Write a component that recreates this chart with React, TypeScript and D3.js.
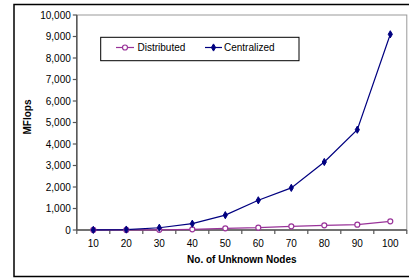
import React from "react";
import * as d3 from "d3";

const categories = [10, 20, 30, 40, 50, 60, 70, 80, 90, 100];
const distributed = [2, 5, 10, 30, 78, 107, 170, 217, 247, 404];
const centralized = [5, 20, 105, 293, 690, 1381, 1960, 3163, 4665, 9102];
const yTicks = [0, 1000, 2000, 3000, 4000, 5000, 6000, 7000, 8000, 9000, 10000];

const W = 409;
const H = 278;
const left = 76.8;
const right = 406.8;
const top = 15;
const bottom = 230;

const distColor = "#993399";
const centColor = "#000080";
const font = "'Liberation Sans', Arial, sans-serif";

export default function App() {
  const x = d3
    .scaleBand<number>()
    .domain(categories)
    .range([left, right])
    .paddingInner(0)
    .paddingOuter(0);
  const y = d3.scaleLinear().domain([0, 10000]).range([bottom, top]);
  const cx = (c: number) => (x(c) as number) + x.bandwidth() / 2;
  const line = d3
    .line<number>()
    .x((_, i) => cx(categories[i]))
    .y((v) => y(v));
  const fmt = d3.format(",");
  const diamond = d3.symbol().type(d3.symbolDiamond).size(15)() as string;
  const bounds = [...categories.map((c) => x(c) as number), right];

  return (
    <svg
      width={W}
      height={H}
      style={{ position: "absolute", left: 0, top: 0, background: "#fff" }}
      fontFamily={font}
    >
      <rect x={14} y={4.5} width={410} height={272} fill="#fff" stroke="#000" strokeWidth={1.5} />
      <rect x={left} y={top} width={right - left} height={bottom - top} fill="none" stroke="#999" strokeWidth={1} />
      <line x1={left} x2={left} y1={top} y2={bottom} stroke="#555" strokeWidth={1.5} />
      {yTicks.map((t) => (
        <g key={t}>
          <line x1={left - 4} x2={left} y1={y(t)} y2={y(t)} stroke="#555" strokeWidth={1.2} />
          <text x={left - 6} y={y(t) + 3.5} fontSize={10} textAnchor="end" fill="#000">
            {fmt(t)}
          </text>
        </g>
      ))}
      <line x1={left} x2={right} y1={bottom} y2={bottom} stroke="#555" strokeWidth={1.5} />
      {bounds.map((b, i) => (
        <line key={i} x1={b} x2={b} y1={bottom} y2={bottom + 4} stroke="#555" strokeWidth={1.2} />
      ))}
      {categories.map((c) => (
        <text key={c} x={cx(c)} y={bottom + 17} fontSize={10} textAnchor="middle" fill="#000">
          {c}
        </text>
      ))}
      <text x={(left + right) / 2} y={263} fontSize={10} fontWeight="bold" textAnchor="middle">
        No. of Unknown Nodes
      </text>
      <text
        transform={`translate(31, ${117}) rotate(-90)`}
        fontSize={10}
        fontWeight="bold"
        textAnchor="middle"
      >
        MFlops
      </text>
      <path d={line(distributed) as string} fill="none" stroke={distColor} strokeWidth={1.2} />
      <path d={line(centralized) as string} fill="none" stroke={centColor} strokeWidth={1.2} />
      {distributed.map((v, i) => (
        <circle key={i} cx={cx(categories[i])} cy={y(v)} r={2.5} fill="#fff" stroke={distColor} strokeWidth={1.2} />
      ))}
      {centralized.map((v, i) => (
        <path key={i} d={diamond} transform={`translate(${cx(categories[i])},${y(v)})`} fill={centColor} stroke={centColor} strokeWidth={1} />
      ))}
      <rect x={100.7} y={37.3} width={198.3} height={23.4} fill="#fff" stroke="#000" strokeWidth={1} />
      <line x1={116} x2={134} y1={47.5} y2={47.5} stroke={distColor} strokeWidth={1.2} />
      <circle cx={125} cy={47.5} r={2.5} fill="#fff" stroke={distColor} strokeWidth={1.2} />
      <text x={137.5} y={51} fontSize={10}>Distributed</text>
      <line x1={205} x2={222} y1={47.5} y2={47.5} stroke={centColor} strokeWidth={1.2} />
      <path d={diamond} transform="translate(213.5,47.5)" fill={centColor} stroke={centColor} strokeWidth={1} />
      <text x={224} y={51} fontSize={10}>Centralized</text>
    </svg>
  );
}
